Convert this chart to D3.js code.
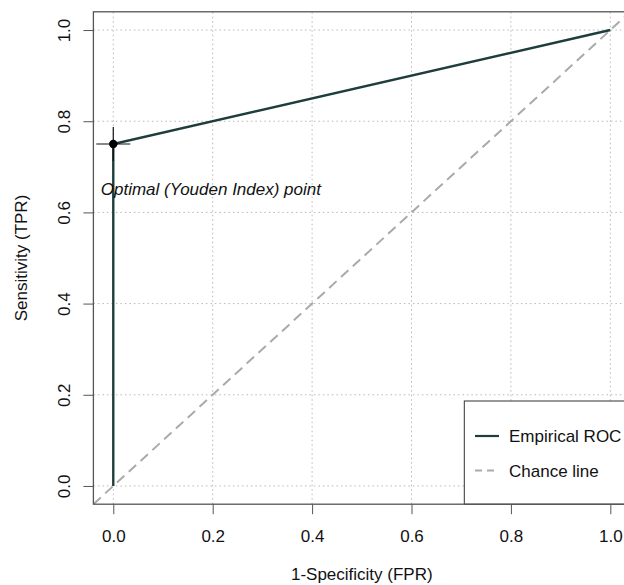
<!DOCTYPE html>
<html>
<head>
<meta charset="utf-8">
<script src="https://cdn.jsdelivr.net/npm/d3@7"></script>
<style>
  body { margin: 0; background: #fff; }
  svg { display: block; font-family: "Liberation Sans", Arial, sans-serif; }
</style>
</head>
<body>
<script>
// ROC points (FPR, TPR)
const rocFpr = [0, 0, 1]
const rocTpr = [0, 0.75, 1]
const optimalPoint = [0, 0.75]
const chanceLine = [-0.04, 1.04]
const tickValues = [0, 0.2, 0.4, 0.6, 0.8, 1.0]
const legendLabels = ["Empirical ROC", "Chance line"]

const rocColor = "#1f3d3d"
const chanceColor = "#aaaaaa"
const fontSize = 17
const width = 624
const height = 585

const svg = d3.select("body").append("svg")
    .attr("width", width)
    .attr("height", height)

// R-style 4% padding around the data range
const x = d3.scaleLinear().domain([-0.04, 1.04]).range([93.4, 630.2])
const y = d3.scaleLinear().domain([-0.04, 1.04]).range([504.2, 11.8])

svg.append("defs").append("clipPath").attr("id", "plotclip")
    .append("rect")
    .attr("x", x(-0.04)).attr("y", y(1.04))
    .attr("width", x(1.04) - x(-0.04)).attr("height", y(-0.04) - y(1.04))

// grid
const grid = svg.append("g")
    .attr("stroke", "#b8b8b8")
    .attr("stroke-width", 1)
    .attr("stroke-dasharray", "1.5,3")
grid.selectAll(".vx").data(tickValues).join("line")
    .attr("x1", d => x(d)).attr("x2", d => x(d))
    .attr("y1", y(-0.04)).attr("y2", y(1.04))
grid.selectAll(".hy").data(tickValues).join("line")
    .attr("y1", d => y(d)).attr("y2", d => y(d))
    .attr("x1", x(-0.04)).attr("x2", x(1.04))

const plot = svg.append("g").attr("clip-path", "url(#plotclip)")

// chance line
plot.append("line")
    .attr("x1", x(chanceLine[0])).attr("y1", y(chanceLine[0]))
    .attr("x2", x(chanceLine[1])).attr("y2", y(chanceLine[1]))
    .attr("stroke", chanceColor)
    .attr("stroke-width", 2)
    .attr("stroke-dasharray", "10,6")

// empirical ROC
const line = d3.line().x(d => x(d[0])).y(d => y(d[1]))
plot.append("path")
    .datum(d3.zip(rocFpr, rocTpr))
    .attr("d", line)
    .attr("fill", "none")
    .attr("stroke", rocColor)
    .attr("stroke-width", 2.4)

// optimal point marker
const ox = x(optimalPoint[0]), oy = y(optimalPoint[1])
plot.append("path")
    .attr("d", `M${ox - 17},${oy}H${ox + 17}M${ox},${oy - 17}V${oy + 17}`)
    .attr("stroke", "#111")
    .attr("stroke-width", 1.2)
plot.append("circle")
    .attr("cx", ox).attr("cy", oy).attr("r", 4.2)
    .attr("fill", "#000")

svg.append("text")
    .attr("x", x(optimalPoint[0]) - 12.5)
    .attr("y", y(optimalPoint[1]) + 50.5)
    .attr("font-size", fontSize)
    .attr("font-style", "italic")
    .attr("fill", "#111")
    .text("Optimal (Youden Index) point")

// legend (bottom right)
const lg = svg.append("g")
lg.append("rect")
    .attr("x", 464.3).attr("y", 401)
    .attr("width", x(1.04) - 464.3).attr("height", y(-0.04) - 401)
    .attr("fill", "#fff")
    .attr("stroke", "#333")
    .attr("stroke-width", 1)
const legendColors = [rocColor, chanceColor]
const legendDash = [null, "7,5"]
legendLabels.forEach((lab, i) => {
    const cy = 436 + i * 34.5
    lg.append("line")
        .attr("x1", 475).attr("x2", 499)
        .attr("y1", cy).attr("y2", cy)
        .attr("stroke", legendColors[i])
        .attr("stroke-width", 2.2)
        .attr("stroke-dasharray", legendDash[i])
    lg.append("text")
        .attr("x", 509).attr("y", cy + 6.3)
        .attr("font-size", fontSize)
        .attr("fill", "#111")
        .text(lab)
})

// box
svg.append("rect")
    .attr("x", x(-0.04)).attr("y", y(1.04))
    .attr("width", x(1.04) - x(-0.04)).attr("height", y(-0.04) - y(1.04))
    .attr("fill", "none")
    .attr("stroke", "#555")
    .attr("stroke-width", 1.3)

// axes
const xAxis = svg.append("g")
    .attr("transform", `translate(0,${y(-0.04)})`)
    .call(d3.axisBottom(x).tickValues(tickValues).tickFormat(d3.format(".1f")).tickSize(10))
xAxis.select(".domain").remove()
xAxis.selectAll(".tick line").attr("stroke", "#555")
xAxis.selectAll(".tick text")
    .attr("font-size", fontSize).attr("fill", "#111").attr("font-family", null)
    .attr("y", 542.3 - y(-0.04)).attr("dy", null)

const yAxis = svg.append("g")
    .attr("transform", `translate(${x(-0.04)},0)`)
    .call(d3.axisLeft(y).tickValues(tickValues).tickFormat(d3.format(".1f")).tickSize(10))
yAxis.select(".domain").remove()
yAxis.selectAll(".tick line").attr("stroke", "#555")
yAxis.selectAll(".tick text")
    .attr("font-size", fontSize).attr("fill", "#111").attr("font-family", null)
    .attr("x", 0).attr("dy", null)
    .attr("text-anchor", "middle")
    .attr("transform", "translate(-23,0) rotate(-90)")

// axis titles
svg.append("text")
    .attr("x", (x(-0.04) + x(1.04)) / 2)
    .attr("y", 580)
    .attr("text-anchor", "middle")
    .attr("font-size", fontSize)
    .attr("fill", "#111")
    .text("1-Specificity (FPR)")

svg.append("text")
    .attr("transform", `translate(27,${(y(-0.04) + y(1.04)) / 2}) rotate(-90)`)
    .attr("text-anchor", "middle")
    .attr("font-size", fontSize)
    .attr("fill", "#111")
    .text("Sensitivity (TPR)")
</script>
</body>
</html>
